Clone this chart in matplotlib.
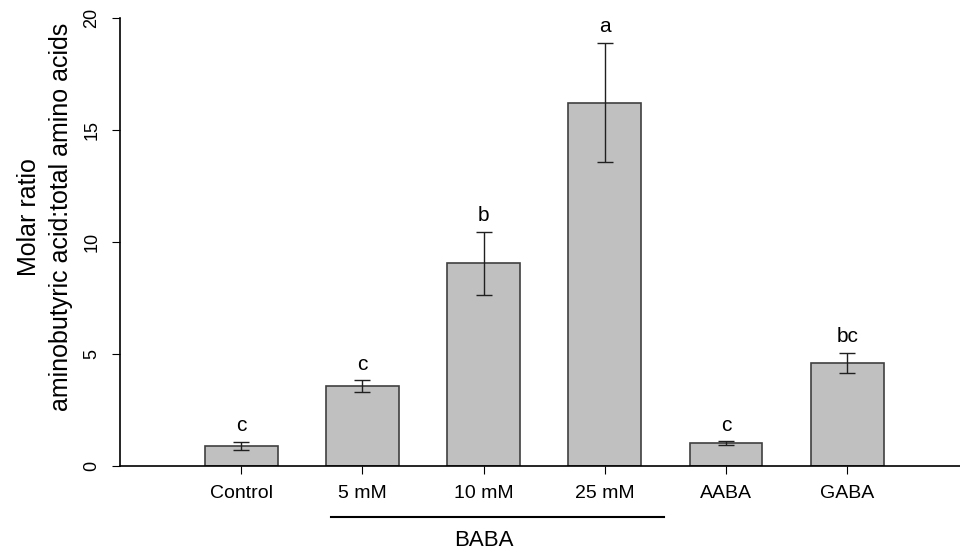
import numpy as np
import matplotlib.pyplot as plt

groups = ['Control', '5 mM', '10 mM', '25 mM', 'AABA', 'GABA']
means = [0.88, 3.57, 9.06, 16.22, 1.01, 4.6]
lower = [0.70, 3.32, 7.65, 13.55, 0.92, 4.15]
upper = [1.06, 3.82, 10.46, 18.88, 1.10, 5.05]
letters = ['c', 'c', 'b', 'a', 'c', 'bc']

plt.rcParams['font.family'] = ['Liberation Sans', 'DejaVu Sans']

fig = plt.figure(figsize=(9.6, 5.54), dpi=100)
ax = fig.add_axes([0.125, 0.159, 0.875, 0.8085])

x = np.arange(1, len(groups) + 1)
means = np.array(means)
yerr = [means - np.array(lower), np.array(upper) - means]
ax.bar(x, means, width=0.6, color='#c0c0c0', edgecolor='#404040', linewidth=1.2)
ax.errorbar(x, means, yerr=yerr, fmt='none', ecolor='#202020', elinewidth=1,
            capsize=6, capthick=1)
for xi, hi, lab in zip(x, upper, letters):
    ax.text(xi, hi + 0.3, lab, ha='center', va='bottom', fontsize=15)

ax.set_xlim(0, 6.93)
ax.set_ylim(0, 20)
ax.spines['top'].set_visible(False)
ax.spines['right'].set_visible(False)
ax.spines['left'].set_bounds(0, 20)
ax.spines['left'].set_linewidth(1.2)
ax.spines['bottom'].set_linewidth(1.2)
ax.set_yticks([0, 5, 10, 15, 20])
ax.set_yticklabels(['0', '5', '10', '15', '20'], fontsize=13, rotation=90, va='center')
ax.tick_params(axis='y', length=6, pad=8)
ax.set_xticks(x)
ax.set_xticklabels(groups, fontsize=14)
ax.tick_params(axis='x', length=6, pad=8)

ax.set_ylabel('Molar ratio\naminobutyric acid:total amino acids', fontsize=18,
              linespacing=1.4, va='center')
ax.yaxis.set_label_coords(-0.089, 0.556)

# BABA grouping line below tick labels
ax.plot([1.74, 4.49], [-2.28, -2.28], color='black', lw=1.5, clip_on=False)
ax.text(3.0, -3.35, 'BABA', ha='center', va='center', fontsize=16)

fig.savefig('out.png', dpi=100)
